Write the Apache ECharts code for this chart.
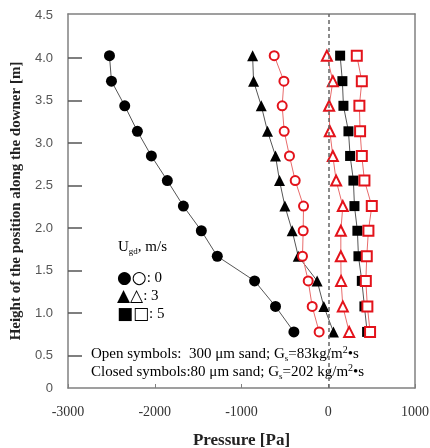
<!DOCTYPE html>
<html>
<head>
<meta charset="utf-8">
<script src="https://cdn.jsdelivr.net/npm/echarts@6/dist/echarts.min.js"></script>
<style>
    html, body { margin: 0; padding: 0; background: #fff; }
    #chart { width: 430px; height: 448px; }
</style>
</head>
<body>
<div id="chart"></div>
<script>
    // measuring heights along the downer [m]
    var heights = [4.03, 3.73, 3.44, 3.14, 2.85, 2.56, 2.26, 1.97, 1.67, 1.38, 1.08, 0.78];
    // closed symbols: 80 um sand, Gs=202 (Ugd = 0, 3, 5 m/s)
    var closed0 = [-2522, -2499, -2346, -2200, -2039, -1855, -1670, -1463, -1279, -849, -608, -396];
    var closed3 = [-872, -861, -772, -700, -608, -562, -500, -416, -346, -128, -51, 60];
    var closed5 = [137, 163, 175, 233, 252, 290, 302, 336, 348, 387, 417, 448];
    // open symbols: 300 um sand, Gs=83
    var open0 = [-623, -511, -531, -508, -447, -381, -285, -289, -297, -231, -185, -105];
    var open3 = [-16, 53, 10, 18, 53, 91, 168, 145, 145, 148, 168, 241];
    var open5 = [329, 387, 359, 367, 387, 417, 502, 463, 444, 433, 451, 482];
    // axis labels / ticks
    var yLabelValues = [0.12, 0.5, 1.0, 1.5, 2.0, 2.5, 3.0, 3.5, 4.0, 4.5];
    var yTickValues = [0.5, 1.0, 1.5, 2.0, 2.5, 3.0, 3.5, 4.0];

    var RED = '#e3131b';
    var GRAY = '#808080';
    var serif = '"Liberation Serif", "Times New Roman", serif';

    function pair(p) {
        return heights.map(function (h, i) { return [p[i], h]; });
    }

    function closedSeries(name, p, symbol, size) {
        return {
            name: name, type: 'line', data: pair(p),
            symbol: symbol, symbolSize: size,
            itemStyle: { color: '#000' },
            lineStyle: { color: '#555', width: 1 },
            z: 2
        };
    }

    function openSeries(name, p, symbol, size) {
        return {
            name: name, type: 'line', data: pair(p),
            symbol: symbol, symbolSize: size,
            itemStyle: { color: '#fff', borderColor: RED, borderWidth: 2 },
            lineStyle: { color: '#e86b6b', width: 1 },
            z: 3
        };
    }

    var series = [
        closedSeries('closed0', closed0, 'circle', 11),
        closedSeries('closed3', closed3, 'triangle', 11),
        closedSeries('closed5', closed5, 'rect', 10),
        openSeries('open0', open0, 'circle', 9),
        openSeries('open3', open3, 'triangle', 10),
        openSeries('open5', open5, 'rect', 10)
    ];
    // dashed line at zero pressure
    series[0].markLine = {
        silent: true, symbol: 'none', label: { show: false },
        lineStyle: { type: [4, 3], color: '#666', width: 1.5 },
        data: [{ xAxis: 0 }]
    };

    var rowRich = {
        b: { fontFamily: 'DejaVu Sans', fontSize: 17, color: '#000' },
        r: { fontFamily: 'DejaVu Sans', fontSize: 17, color: RED },
        n: { fontFamily: serif, fontSize: 15, color: '#222' }
    };
    var noteRich = {
        n: { fontFamily: serif, fontSize: 15, color: '#222', lineHeight: 18, verticalAlign: 'middle' },
        sub: { fontFamily: serif, fontSize: 9, color: '#222', lineHeight: 18, verticalAlign: 'bottom' },
        sup: { fontFamily: serif, fontSize: 10, color: '#222', lineHeight: 18, verticalAlign: 'top' }
    };

    // plain axis used only as frame line (top / right); its zero sits at the left / bottom edge
    var frameAxis = {
        type: 'value', axisLine: { show: true, onZero: false, lineStyle: { color: GRAY, width: 1.5 } },
        axisTick: { show: false }, axisLabel: { show: false }, splitLine: { show: false }
    };

    var myChart = echarts.init(document.getElementById('chart'));
    myChart.setOption({
        animation: false,
        grid: {
            left: 68, right: 15, top: 14, bottom: 60,
            outerBoundsMode: 'none'
        },
        xAxis: [{
            type: 'value', min: -3000, max: 1000, interval: 1000,
            name: 'Pressure [Pa]', nameLocation: 'middle', nameGap: 44,
            nameTextStyle: { fontFamily: serif, fontWeight: 'bold', fontSize: 17, color: '#222' },
            axisLine: { show: true, onZero: true, onZeroAxisIndex: 1, lineStyle: { color: GRAY, width: 1.5 } },
            axisTick: { show: true, inside: true, length: 4, lineStyle: { color: GRAY } },
            axisLabel: {
                margin: 17, fontFamily: serif, fontSize: 14, color: '#333',
                formatter: function (v) { return String(v); }
            },
            splitLine: { show: false }
        }, Object.assign({ position: 'top', min: 0, max: 4000 }, frameAxis)],
        yAxis: [{
            type: 'value', min: 0.12, max: 4.52,
            name: 'Height of the position along the downer [m]',
            nameLocation: 'middle', nameGap: 38,
            nameTextStyle: { fontFamily: serif, fontWeight: 'bold', fontSize: 15, color: '#222' },
            axisLine: { show: true, onZero: true, onZeroAxisIndex: 1, lineStyle: { color: GRAY, width: 1.5 } },
            axisTick: { show: true, inside: true, length: 14, customValues: yTickValues, lineStyle: { color: '#555', width: 1.5 } },
            axisLabel: {
                margin: 15, fontFamily: '"Liberation Sans", Arial, sans-serif', fontSize: 13, color: '#555',
                customValues: yLabelValues,
                formatter: function (v) { return v < 0.3 ? '0' : v.toFixed(1); }
            },
            splitLine: { show: false }
        }, Object.assign({ position: 'right', min: 0, max: 4.4 }, frameAxis)],
        graphic: [
            { type: 'text', left: 118, top: 240, silent: true,
              style: { text: '{n|U}{sub|gd}{n|, m/s}', rich: noteRich } },
            { type: 'text', left: 117, top: 270, silent: true,
              style: { text: '{b|●}{r|○}{n|: 0}', rich: rowRich } },
            { type: 'text', left: 117, top: 288, silent: true,
              style: { text: '{b|▲}{r|△}{n|: 3}', rich: rowRich } },
            { type: 'text', left: 117, top: 306, silent: true,
              style: { text: '{b|■}{r|□}{n|: 5}', rich: rowRich } },
            { type: 'text', left: 91, top: 345, silent: true,
              style: { text: '{n|Open symbols:  300 μm sand; G}{sub|s}{n|=83kg/m}{sup|2}{n|•s}', rich: noteRich } },
            { type: 'text', left: 91, top: 363, silent: true,
              style: { text: '{n|Closed symbols:80 μm sand; G}{sub|s}{n|=202 kg/m}{sup|2}{n|•s}', rich: noteRich } }
        ],
        series: series
    });
</script>
</body>
</html>
